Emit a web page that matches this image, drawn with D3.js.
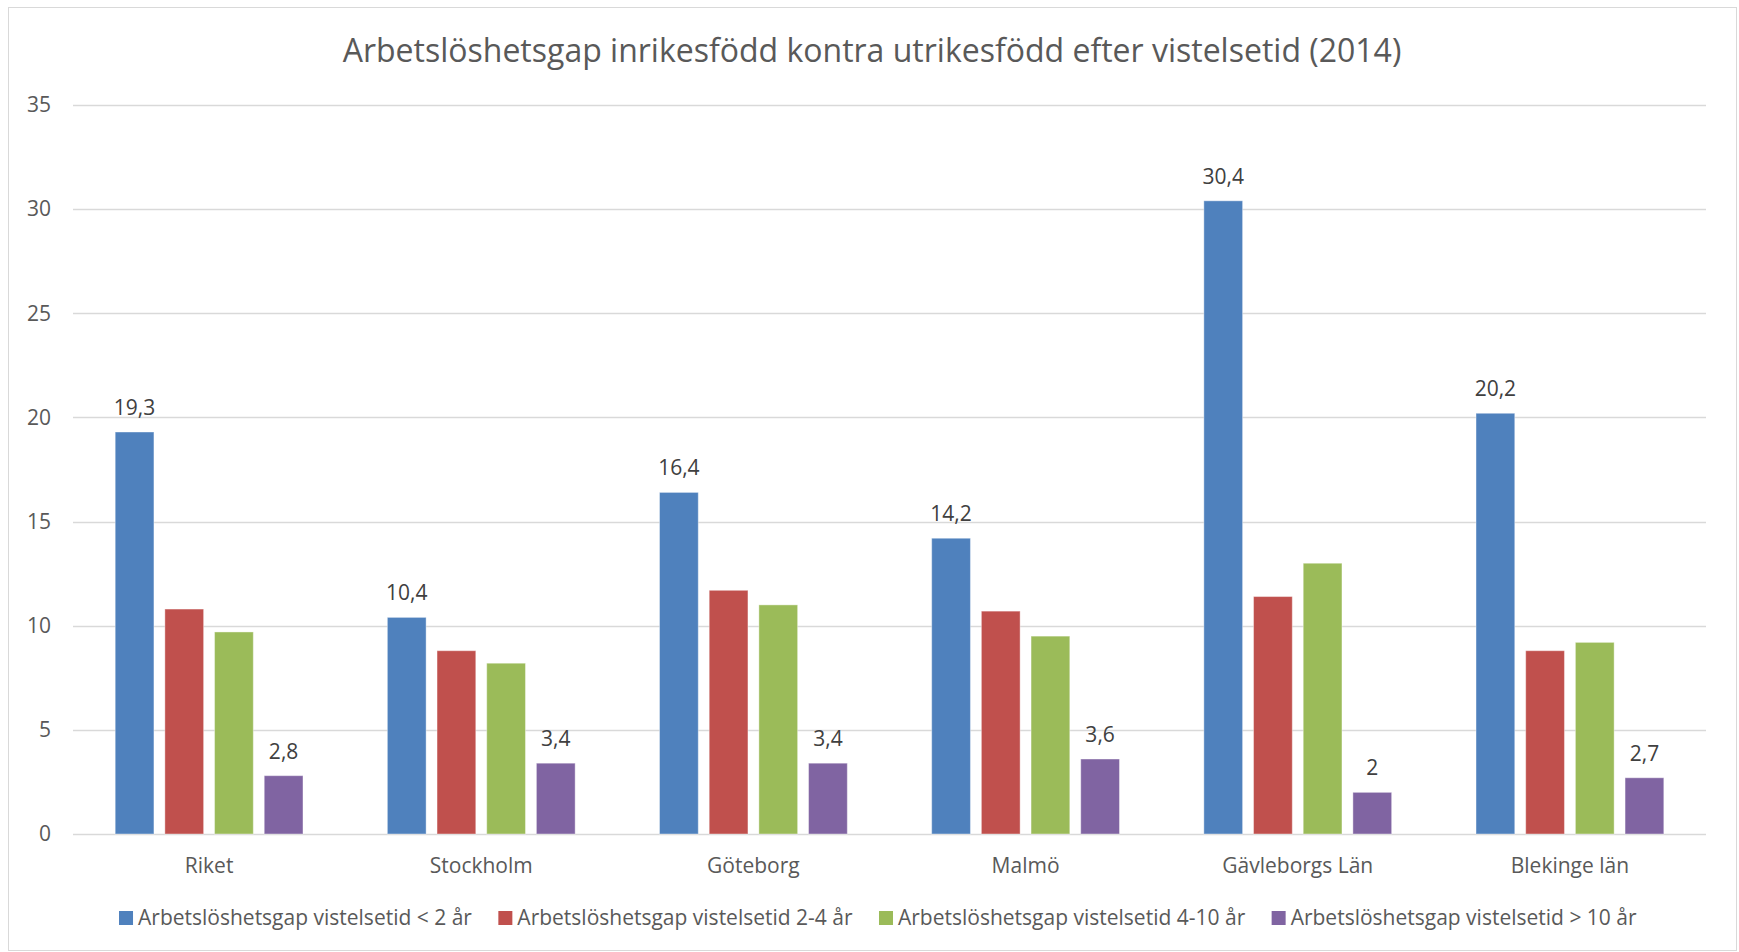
<!DOCTYPE html>
<html>
<head>
<meta charset="utf-8">
<script src="https://cdn.jsdelivr.net/npm/d3@7"></script>
<style>
  body { margin: 0; background: #fff; }
  svg { display: block; font-family: "Open Sans", sans-serif; }
</style>
</head>
<body>
<script>
// data
const categories = ["Riket", "Stockholm", "Göteborg", "Malmö", "Gävleborgs Län", "Blekinge län"];
const seriesNames = [
  "Arbetslöshetsgap vistelsetid < 2 år",
  "Arbetslöshetsgap vistelsetid 2-4 år",
  "Arbetslöshetsgap vistelsetid 4-10 år",
  "Arbetslöshetsgap vistelsetid > 10 år"
];
const under2 = [19.3, 10.4, 16.4, 14.2, 30.4, 20.2];
const from2to4 = [10.8, 8.8, 11.7, 10.7, 11.4, 8.8];
const from4to10 = [9.7, 8.2, 11.0, 9.5, 13.0, 9.2];
const over10 = [2.8, 3.4, 3.4, 3.6, 2.0, 2.7];
const yTicks = [0, 5, 10, 15, 20, 25, 30, 35];
const labelled = [true, false, false, true]; // only first and last series have data labels

const colors = ["#4F81BD", "#C0504D", "#9BBB59", "#8064A2"];
const seriesValues = [under2, from2to4, from4to10, over10];

const width = 1739;
const height = 952;
const margin = { top: 105, right: 33, bottom: 118, left: 73 };

const svg = d3.select("body").append("svg")
  .attr("width", width)
  .attr("height", height);

// chart frame
svg.append("rect")
  .attr("x", 8.5)
  .attr("y", 7.5)
  .attr("width", 1728)
  .attr("height", 943)
  .attr("fill", "#fff")
  .attr("stroke", "#D9D9D9");

// title
svg.append("text")
  .attr("x", 872)
  .attr("y", 62)
  .attr("text-anchor", "middle")
  .attr("font-size", 32)
  .attr("fill", "#595959")
  .text("Arbetslöshetsgap inrikesfödd kontra utrikesfödd efter vistelsetid (2014)");

const x0 = d3.scaleBand()
  .domain(categories)
  .range([margin.left, width - margin.right])
  .paddingInner(0.31)
  .paddingOuter(0.155);

const x1 = d3.scaleBand()
  .domain(d3.range(seriesNames.length))
  .range([0, x0.bandwidth()])
  .paddingInner(0.22);

const y = d3.scaleLinear()
  .domain([0, 35])
  .range([height - margin.bottom, margin.top]);

// gridlines
svg.append("g")
  .selectAll("line")
  .data(yTicks)
  .join("line")
  .attr("x1", margin.left)
  .attr("x2", width - margin.right)
  .attr("y1", d => Math.round(y(d)) + 0.5)
  .attr("y2", d => Math.round(y(d)) + 0.5)
  .attr("stroke", "#D9D9D9")
  .attr("stroke-width", 1.3);

// y axis labels
const yAxis = svg.append("g")
  .attr("transform", `translate(${margin.left},0)`)
  .call(d3.axisLeft(y).tickValues(yTicks).tickSize(0).tickPadding(22));
yAxis.select(".domain").remove();
yAxis.selectAll("text")
  .attr("font-size", 21)
  .attr("font-family", "Open Sans")
  .attr("fill", "#595959");

// x axis labels
const xAxis = svg.append("g")
  .attr("transform", `translate(0,${height - margin.bottom})`)
  .call(d3.axisBottom(x0).tickSize(0).tickPadding(24));
xAxis.select(".domain").remove();
xAxis.selectAll("text")
  .attr("font-size", 21)
  .attr("font-family", "Open Sans")
  .attr("fill", "#595959");

// bars
const groups = svg.append("g")
  .selectAll("g")
  .data(categories)
  .join("g")
  .attr("transform", d => `translate(${x0(d)},0)`);

groups.selectAll("rect")
  .data((c, ci) => seriesValues.map((vals, si) => ({ si, value: vals[ci] })))
  .join("rect")
  .attr("x", d => x1(d.si))
  .attr("y", d => y(d.value))
  .attr("width", x1.bandwidth())
  .attr("height", d => y(0) - y(d.value))
  .attr("fill", d => colors[d.si])
  .attr("stroke", "#fff")
  .attr("stroke-opacity", 0.4)
  .attr("stroke-width", 1);

// data labels
const fmt = v => String(v).replace(".", ",");
groups.selectAll("text")
  .data((c, ci) => seriesValues.map((vals, si) => ({ si, value: vals[ci] })).filter(d => labelled[d.si]))
  .join("text")
  .attr("x", d => x1(d.si) + x1.bandwidth() / 2)
  .attr("y", d => y(d.value) - 17)
  .attr("text-anchor", "middle")
  .attr("font-size", 21)
  .attr("fill", "#404040")
  .text(d => fmt(d.value));

// legend
const legend = svg.append("g");
const legendItems = legend.selectAll("g")
  .data(seriesNames)
  .join("g");

legendItems.append("rect")
  .attr("width", 14)
  .attr("height", 14)
  .attr("y", -7)
  .attr("fill", (d, i) => colors[i]);

legendItems.append("text")
  .attr("x", 19)
  .attr("dy", "0.35em")
  .attr("font-size", 21)
  .attr("fill", "#595959")
  .text(d => d);

// place legend items side by side, centred
let offset = 0;
const itemGap = 26;
const widths = [];
legendItems.each(function () {
  widths.push(this.getBBox().width);
});
const total = d3.sum(widths) + itemGap * (widths.length - 1);
legendItems.attr("transform", (d, i) => {
  const xPos = offset;
  offset += widths[i] + itemGap;
  return `translate(${xPos},0)`;
});
legend.attr("transform", `translate(${(122 + 1634) / 2 - total / 2},918)`);
</script>
</body>
</html>
